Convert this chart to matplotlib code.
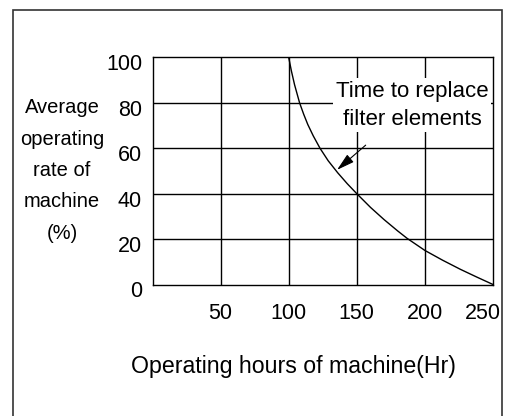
import matplotlib
matplotlib.use("Agg")
import matplotlib.pyplot as plt
from matplotlib.patches import Rectangle
from matplotlib.transforms import ScaledTranslation

plt.rcParams['font.family'] = ['Liberation Sans', 'DejaVu Sans']

# Data
hours = [100, 102, 104.3, 108, 111, 114, 118, 123, 129, 136, 143, 150, 160, 170, 180, 187,
         200, 213, 226, 238, 250]
rate = [100, 94, 88, 80, 75, 70.5, 65.5, 60, 54.5, 49.2, 44.4, 40, 34, 28.6, 23.6, 20.3,
        15, 10.7, 6.7, 3.3, 0]
x_ticks = [50, 100, 150, 200, 250]
y_ticks = [0, 20, 40, 60, 80, 100]
x_label = "Operating hours of machine(Hr)"
y_label = "Average\noperating\nrate of\nmachine\n(%)"
note = "Time to replace\nfilter elements"

fig = plt.figure(figsize=(5.07, 4.16), dpi=100)
ax = fig.add_axes([0.3008, 0.3161, 0.6716, 0.5457])
ax.set_xlim(0, 250)
ax.set_ylim(0, 100)

ax.set_xticks(x_ticks)
ax.set_yticks(y_ticks)
ax.tick_params(axis='both', length=0, labelsize=15.5, colors='black')
ax.tick_params(axis='x', pad=13)
ax.tick_params(axis='y', pad=7.5)

# Grid lines
for v in x_ticks[:-1]:
    ax.axvline(v, color='black', lw=1.0, zorder=1)
for v in y_ticks[1:-1]:
    ax.axhline(v, color='black', lw=1.0, zorder=1)
for s in ax.spines.values():
    s.set_linewidth(1.0)
    s.set_zorder(1)

ax.plot(hours, rate, color='black', lw=1.0, zorder=3)

# shift y tick labels slightly downward
for lbl in ax.get_yticklabels():
    lbl.set_transform(lbl.get_transform() + ScaledTranslation(0, -3.5 / 72, fig.dpi_scale_trans))
xl = ax.get_xticklabels()
xl[-1].set_transform(xl[-1].get_transform() + ScaledTranslation(-7 / 72, 0, fig.dpi_scale_trans))

# Annotation
ax.annotate(note, xy=(135.5, 50.5), xytext=(190.5, 79), ha='center', va='center',
            fontsize=16, linespacing=1.45, zorder=4,
            bbox=dict(boxstyle='square,pad=0.12', fc='white', ec='none'),
            arrowprops=dict(arrowstyle='-|>,head_length=0.9,head_width=0.25', color='black',
                            lw=0.8, shrinkA=14, shrinkB=0, mutation_scale=12))

fig.text(62 / 507, 1 - 170.5 / 416, y_label, ha='center', va='center', fontsize=14.5, linespacing=1.82)
fig.text(293 / 507, 1 - 367 / 416, x_label, ha='center', va='center', fontsize=16.7)

# Outer frame (open at the bottom)
fig.add_artist(Rectangle((12.5 / 507, -0.05), (502 - 12.5) / 507, 1.05 - 9.5 / 416,
                         transform=fig.transFigure, fill=False, ec='#333333', lw=1.2))

fig.savefig("out.png", dpi=100)
